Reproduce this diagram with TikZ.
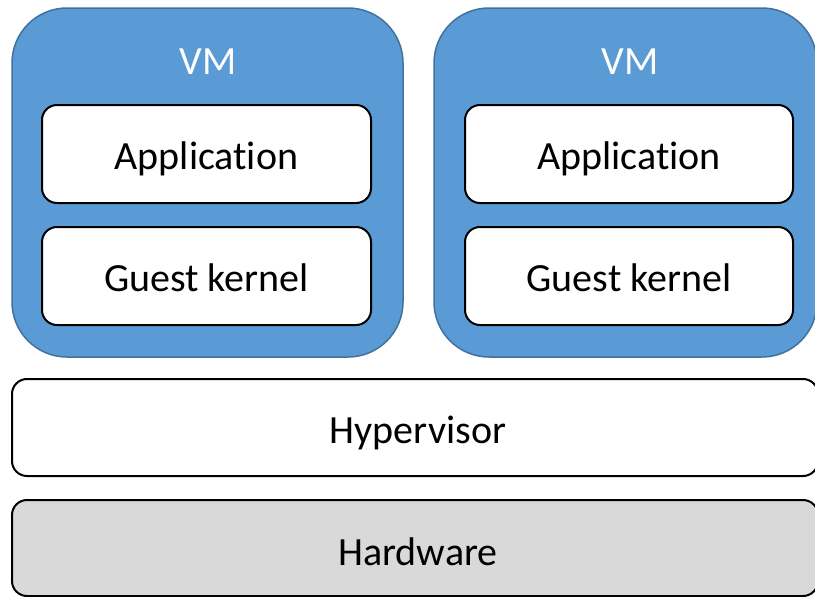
\documentclass[tikz,border=0pt]{standalone}
\usepackage{fontspec}
\setmainfont{Carlito}[Ligatures={NoCommon}]
\definecolor{vmfill}{HTML}{5B9BD5}
\definecolor{vmedge}{HTML}{41719C}
\definecolor{hwfill}{HTML}{D9D9D9}
\begin{document}
\begin{tikzpicture}[x=1pt,y=-1pt,
  vmbox/.style={draw=vmedge,fill=vmfill,line width=1.5pt,rounded corners=55pt},
  inbox/.style={draw=black,fill=white,line width=2pt,rounded corners=15pt},
  lbl/.style={font=\fontsize{40}{48}\selectfont,text=black},
  vmlbl/.style={font=\fontsize{40}{48}\selectfont,text=white}]
\useasboundingbox (0,0) rectangle (815,597);
% VMs
\draw[vmbox] (12,8) rectangle (403,357);
\draw[vmbox] (434,8) rectangle (817,357);
\node[vmlbl] (vm1) at (208,62) {VM};
\node[vmlbl] (vm2) at (630,62) {VM};
% inner boxes
\draw[inbox] (42,105) rectangle (371,203);
\node[lbl] (app1) at (206.5,159) {Application};
\draw[inbox] (42,227) rectangle (371,325);
\node[lbl] (gk1) at (206.5,278) {Guest kernel};
\draw[inbox] (465,105) rectangle (793,203);
\node[lbl] (app2) at (629,159) {Application};
\draw[inbox] (465,227) rectangle (793,325);
\node[lbl] (gk2) at (629,278) {Guest kernel};
% hypervisor & hardware
\draw[inbox] (12,379) rectangle (818,476);
\node[lbl] (hv) at (418,433) {Hypervisor};
\draw[inbox,fill=hwfill] (12,500) rectangle (818,596);
\node[lbl] (hw) at (418,552) {Hardware};
\end{tikzpicture}
\end{document}
